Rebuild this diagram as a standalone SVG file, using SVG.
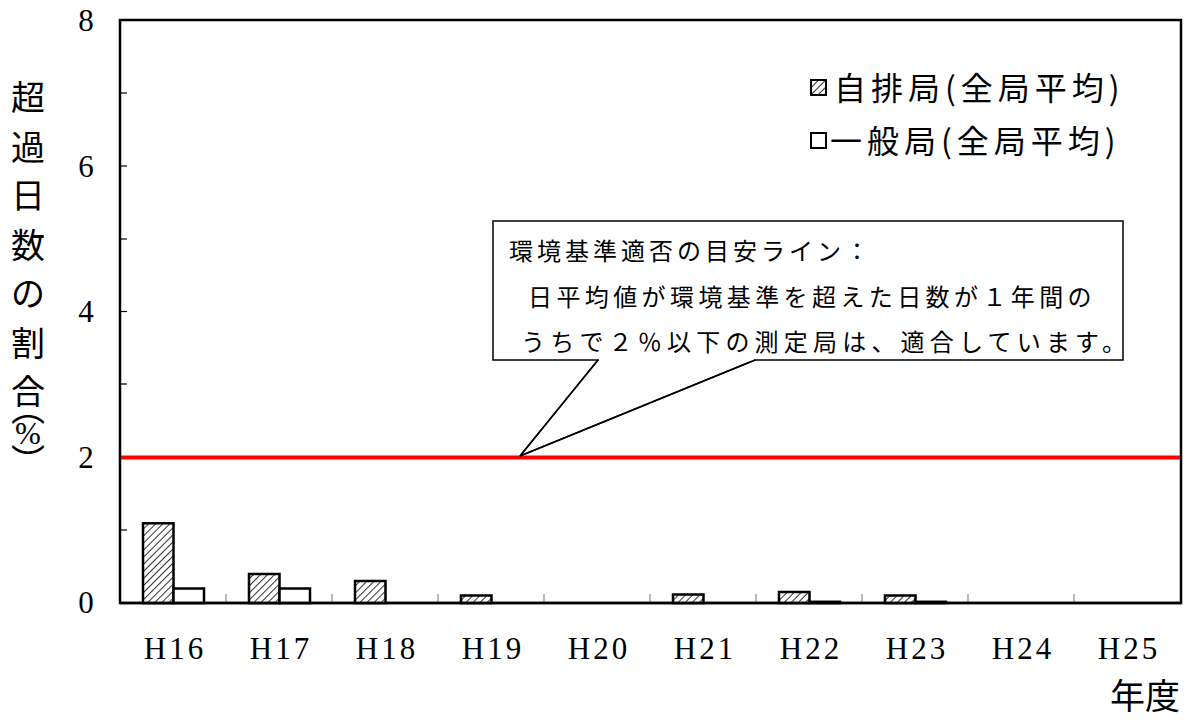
<svg xmlns="http://www.w3.org/2000/svg" width="1195" height="720" viewBox="0 0 1195 720">
<defs>
<pattern id="hatch" patternUnits="userSpaceOnUse" width="5" height="5" patternTransform="rotate(45)">
<rect width="5" height="5" fill="#fff"/>
<line x1="0" y1="0" x2="0" y2="5" stroke="#333" stroke-width="2"/>
</pattern>
<style>
.num{font-family:"Liberation Serif",serif;font-size:31px;fill:#000}
.xl{font-family:"Liberation Serif",serif;font-size:31px;letter-spacing:3px;fill:#000}
.jp{font-family:"Noto Sans CJK JP",sans-serif;fill:#000}
.vt{font-family:"Noto Sans CJK JP",sans-serif;writing-mode:vertical-rl;font-size:34px;fill:#000}
.bar{stroke:#000;stroke-width:2.5}
.hb{fill:url(#hatch)}
.wb{fill:#fff}
.tick{stroke:#888;stroke-width:1.2}
.ytick{stroke:#000;stroke-width:1.2}
</style>
</defs>
<rect width="1195" height="720" fill="#fff"/>
<g id="plot-frame">
<rect x="120" y="20" width="1061" height="583" fill="#fff" stroke="#000" stroke-width="2.5"/>
</g>
<g id="y-ticks">
<line class="ytick" x1="120" y1="530" x2="127" y2="530"/>
<line class="ytick" x1="120" y1="457" x2="127" y2="457"/>
<line class="ytick" x1="120" y1="384" x2="127" y2="384"/>
<line class="ytick" x1="120" y1="311.5" x2="127" y2="311.5"/>
<line class="ytick" x1="120" y1="239" x2="127" y2="239"/>
<line class="ytick" x1="120" y1="166" x2="127" y2="166"/>
<line class="ytick" x1="120" y1="93" x2="127" y2="93"/>
</g>
<g id="x-ticks">
<line class="tick" x1="226" y1="603" x2="226" y2="594"/>
<line class="tick" x1="332" y1="603" x2="332" y2="594"/>
<line class="tick" x1="438" y1="603" x2="438" y2="594"/>
<line class="tick" x1="544" y1="603" x2="544" y2="594"/>
<line class="tick" x1="650" y1="603" x2="650" y2="594"/>
<line class="tick" x1="756" y1="603" x2="756" y2="594"/>
<line class="tick" x1="862" y1="603" x2="862" y2="594"/>
<line class="tick" x1="968" y1="603" x2="968" y2="594"/>
<line class="tick" x1="1074" y1="603" x2="1074" y2="594"/>
</g>
<g id="bars">
<rect class="bar hb" x="143" y="523.3" width="30.5" height="79.7"/>
<rect class="bar wb" x="173.5" y="588.5" width="30.5" height="14.5"/>
<rect class="bar hb" x="249" y="574" width="30.5" height="29"/>
<rect class="bar wb" x="279.5" y="588.5" width="30.5" height="14.5"/>
<rect class="bar hb" x="355" y="581" width="30.5" height="22"/>
<rect class="bar hb" x="461" y="595.5" width="30.5" height="7.5"/>
<rect class="bar hb" x="673" y="594.5" width="30.5" height="8.5"/>
<rect class="bar hb" x="779" y="592" width="30.5" height="11"/>
<rect class="bar wb" x="809.5" y="601.8" width="30.5" height="1.2"/>
<rect class="bar hb" x="885" y="595.5" width="30.5" height="7.5"/>
<rect class="bar wb" x="915.5" y="601.8" width="30.5" height="1.2"/>
</g>
<g id="x-axis-line">
<line x1="120" y1="603" x2="1181" y2="603" stroke="#000" stroke-width="2.5"/>
</g>
<g id="standard-line">
<line x1="121" y1="457.5" x2="1180" y2="457.5" stroke="#ff0000" stroke-width="4"/>
</g>
<g id="y-labels" text-anchor="middle">
<text class="num" x="86" y="31">8</text>
<text class="num" x="86" y="177">6</text>
<text class="num" x="86" y="322">4</text>
<text class="num" x="86" y="468">2</text>
<text class="num" x="86" y="613">0</text>
</g>
<g id="x-labels" text-anchor="middle">
<text class="xl" x="175" y="659">H16</text>
<text class="xl" x="281" y="659">H17</text>
<text class="xl" x="387" y="659">H18</text>
<text class="xl" x="493" y="659">H19</text>
<text class="xl" x="599" y="659">H20</text>
<text class="xl" x="705" y="659">H21</text>
<text class="xl" x="811" y="659">H22</text>
<text class="xl" x="917" y="659">H23</text>
<text class="xl" x="1023" y="659">H24</text>
<text class="xl" x="1129" y="659">H25</text>
</g>
<g id="x-title">
<text class="jp" x="1145" y="709" font-size="35" text-anchor="middle">年度</text>
</g>
<g id="y-title">
<g class="jp" font-size="34" text-anchor="middle">
<text x="28" y="110">超</text>
<text x="28" y="160">過</text>
<text x="28" y="208">日</text>
<text x="28" y="258">数</text>
<text x="28" y="306">の</text>
<text x="28" y="356">割</text>
<text x="28" y="404">合</text>
</g>
<text class="vt" x="28" y="391">（</text>
<text class="num" font-size="30" x="28" y="444" text-anchor="middle">%</text>
<text class="vt" x="28" y="444">）</text>
</g>
<g id="legend">
<rect x="811" y="80" width="15" height="15" fill="url(#hatch)" stroke="#000" stroke-width="2"/>
<text class="jp" x="834" y="100" font-size="32" letter-spacing="5">自排局(全局平均)</text>
<rect x="811" y="133" width="15" height="15" fill="#fff" stroke="#000" stroke-width="2"/>
<text class="jp" x="830" y="153" font-size="32" letter-spacing="5">一般局(全局平均)</text>
</g>
<g id="callout">
<path d="M598,360 L520,456 L755,360" fill="#fff" stroke="#000" stroke-width="1.5"/>
<rect x="493" y="221" width="630" height="139" fill="#fff" stroke="#000" stroke-width="1.5"/>
<line x1="599" y1="360" x2="754" y2="360" stroke="#fff" stroke-width="2"/>
<path d="M598,360 L520,456 L755,360" fill="none" stroke="#000" stroke-width="1.5"/>
<text class="jp" x="509" y="260" font-size="24" letter-spacing="4">環境基準適否の目安ライン：</text>
<text class="jp" x="528" y="306" font-size="24" letter-spacing="4.4">日平均値が環境基準を超えた日数が１年間の</text>
<text class="jp" x="521" y="351" font-size="24" letter-spacing="5.2">うちで２％以下の測定局は、適合しています。</text>
</g>
</svg>
